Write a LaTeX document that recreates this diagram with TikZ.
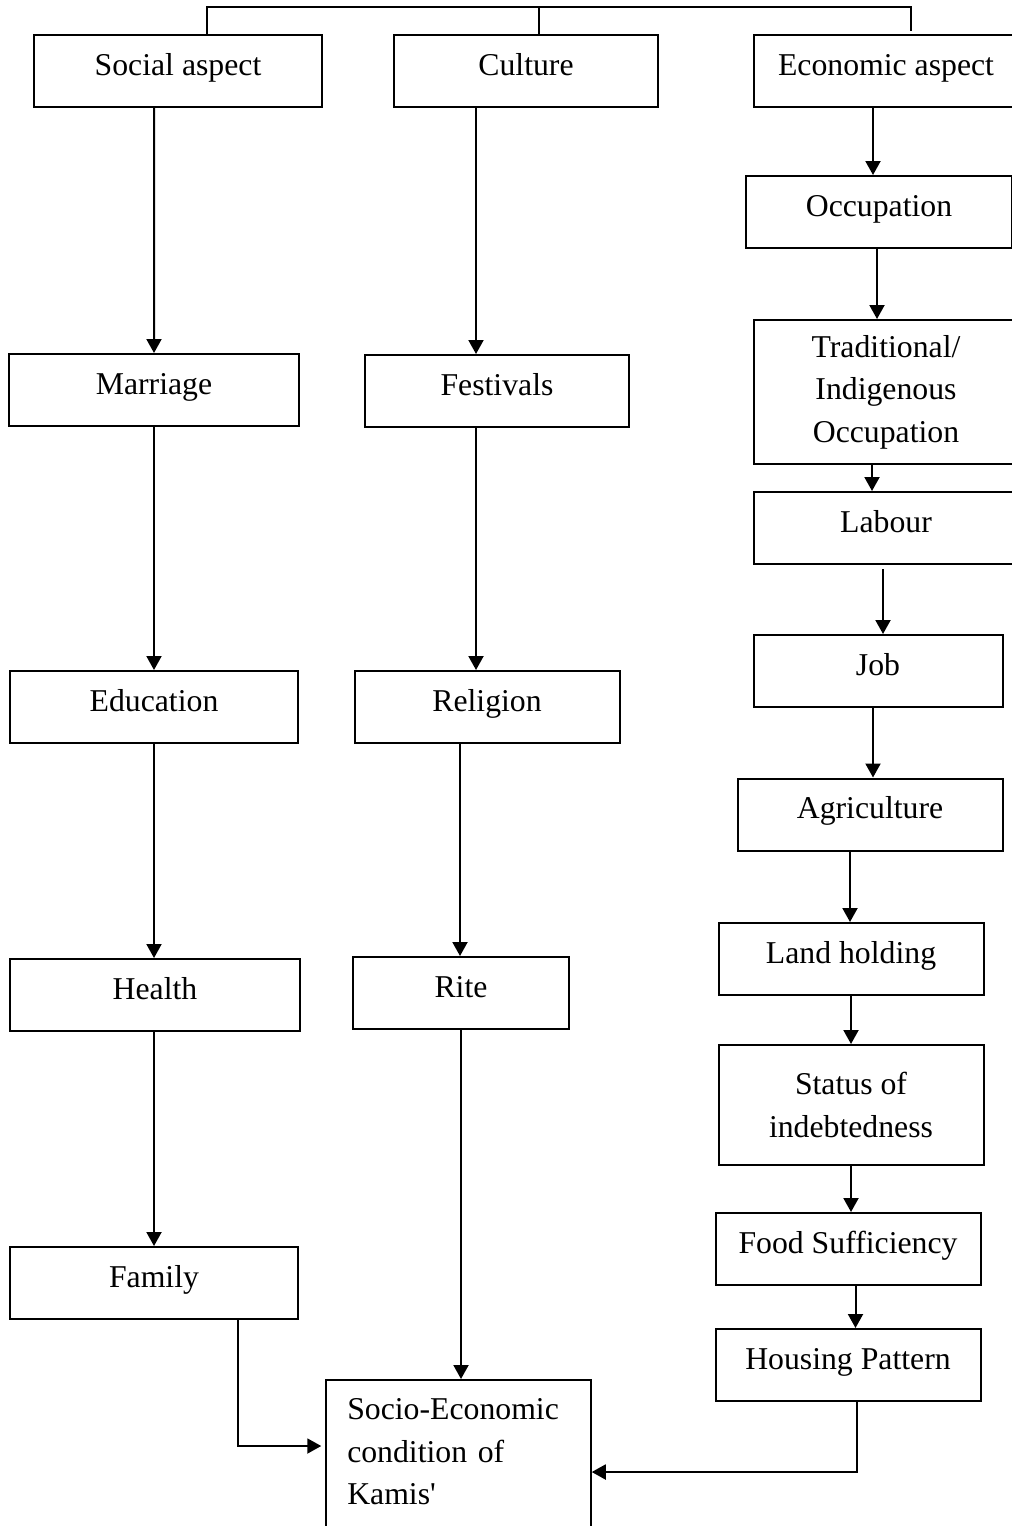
\documentclass[tikz,border=0pt]{standalone}
\usepackage{fontspec}
\setmainfont{Liberation Serif}
\usepackage{tikz}
\usetikzlibrary{arrows.meta}
\tikzset{
    box/.style={
           rectangle,
           draw=black, line width=0.8pt,
           minimum height=28.8pt,
           inner sep=2pt,
           text centered,
           text height=9pt,
           text depth=5.8pt,
           font=\fontsize{12.7}{17}\selectfont,
           },
    multi/.style={
           align=center,
           text height=,
           text depth=,
           },
    arr/.style={-{Triangle[length=5.6pt,width=6pt]}, line width=0.8pt},
}

\begin{document}
\begin{tikzpicture}[x=0.4pt,y=-0.4pt]
    \useasboundingbox (0,0) rectangle (1012,1526);
    \clip (0,0) rectangle (1012,1526);

    % three aspects on top
    \node[box, minimum width=115.2pt] (social) at (178,71) {Social aspect};
    \node[box, minimum width=105.6pt] (culture) at (526,71) {Culture};
    \node[box, minimum width=105.6pt] (econ) at (886,71) {Economic aspect};

    % social column
    \node[box, minimum width=115.6pt] (marriage) at (154,390) {Marriage};
    \node[box, minimum width=115.2pt] (education) at (154,707) {Education};
    \node[box, minimum width=115.6pt] (health) at (155,995) {Health};
    \node[box, minimum width=115.4pt] (family) at (154,1283) {Family};

    % culture column
    \node[box, minimum width=105.6pt] (festivals) at (497,391) {Festivals};
    \node[box, minimum width=106pt] (religion) at (487,707) {Religion};
    \node[box, minimum width=86.6pt] (rite) at (461,993) {Rite};

    % economic column
    \node[box, minimum width=106.4pt] (occupation) at (879,212) {Occupation};
    \node[box, multi, minimum width=105.6pt, minimum height=57.6pt] (trad) at (886,392)
        {Traditional/\\Indigenous\\Occupation};
    \node[box, minimum width=105.6pt] (labour) at (886,528) {Labour};
    \node[box, minimum width=99.6pt] (job) at (878,671) {Job};
    \node[box, minimum width=106pt] (agri) at (870,814.5) {Agriculture};
    \node[box, minimum width=106pt] (land) at (851,959) {Land holding};
    \node[box, multi, minimum width=106pt, minimum height=48pt] (status) at (851,1105)
        {Status of\\indebtedness};
    \node[box, minimum width=106pt] (food) at (848,1249) {Food Sufficiency};
    \node[box, minimum width=106pt] (housing) at (848,1365) {Housing Pattern};

    % result
    \node[box, anchor=north, text width=89pt, align=left, inner xsep=8.4pt, inner ysep=7.4pt,
        text height=, text depth=45pt] (socio) at (458.5,1379)
        {Socio-Economic\\condition of\\Kamis\textquotesingle};

    % bracket over the top boxes
    \coordinate (topL) at (207,7);
    \coordinate (topM) at (539,7);
    \coordinate (topR) at (911,7);
    \draw[line width=0.8pt] (topL |- social.north) -- (topL) -- (topR) -- ++(0,24);
    \draw[line width=0.8pt] (topM) -- (topM |- culture.north);

    % social arrows
    \draw[arr] ([xshift=-9.6pt]social.south) -- (marriage);
    \draw[arr] (marriage) -- (education);
    \draw[arr] (education.south) -- (education.south |- health.north);
    \draw[arr] ([xshift=-0.4pt]health.south) -- ([xshift=-0.4pt]health.south |- family.north);
    \draw[arr, shorten >=1.6pt] ([xshift=33.6pt]family.south) |- ([yshift=-26.8pt]socio.north west);

    % culture arrows
    \draw[arr] ([xshift=-20pt]culture.south) -- ([xshift=-20pt]culture.south |- festivals.north);
    \draw[arr] ([xshift=-8.4pt]festivals.south) -- ([xshift=-8.4pt]festivals.south |- religion.north);
    \draw[arr] ([xshift=-10.8pt]religion.south) -- ([xshift=-10.8pt]religion.south |- rite.north);
    \draw[arr] (rite.south) -- (rite.south |- socio.north);

    % economic arrows
    \draw[arr] ([xshift=-5.2pt]econ.south) -- ([xshift=-5.2pt]econ.south |- occupation.north);
    \draw[arr] ([xshift=-0.8pt]occupation.south) -- ([xshift=-0.8pt]occupation.south |- trad.north);
    \draw[arr] ([xshift=-5.6pt]trad.south) -- ([xshift=-5.6pt]trad.south |- labour.north);
    \draw[arr] ([xshift=-1.2pt,yshift=-1.6pt]labour.south) -- ([xshift=-1.2pt]labour.south |- job.north);
    \draw[arr] ([xshift=-2pt]job.south) -- ([xshift=-2pt]job.south |- agri.north);
    \draw[arr] ([xshift=-8pt]agri.south) -- ([xshift=-8pt]agri.south |- land.north);
    \draw[arr] (land.south) -- (land.south |- status.north);
    \draw[arr] (status.south) -- (status.south |- food.north);
    \draw[arr] ([xshift=3pt]food.south) -- ([xshift=3pt]food.south |- housing.north);
    \draw[arr] ([xshift=3.6pt]housing.south) |- ([yshift=-37.2pt]socio.north east);
\end{tikzpicture}
\end{document}
